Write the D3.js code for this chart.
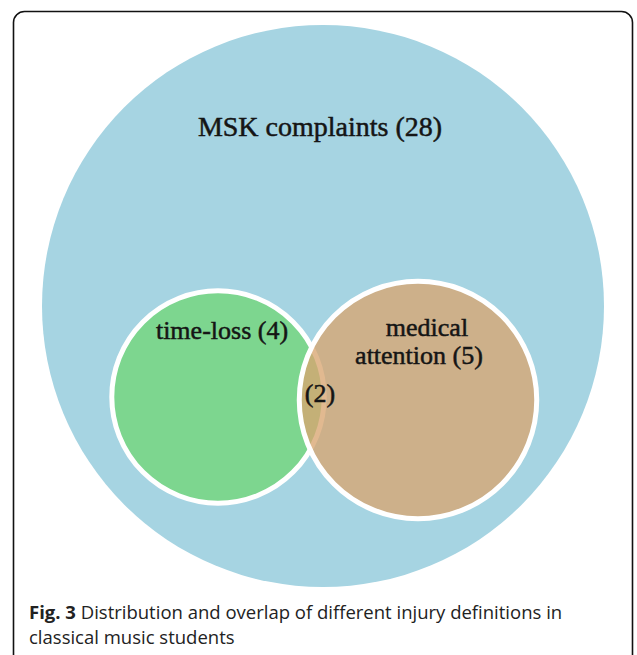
<!DOCTYPE html>
<html>
<head>
<meta charset="utf-8">
<script src="https://cdn.jsdelivr.net/npm/d3@7"></script>
<style>
  html, body { margin: 0; padding: 0; background: #fff; }
  svg { display: block; }
</style>
</head>
<body>
<svg width="637" height="655"></svg>
<script>
(function(){

	var svg = d3.select("svg");

	// sets and their counts
	var setNames = ["MSK complaints", "time-loss", "medical attention"],
		setCounts = [28, 4, 5],
		overlapCount = 2;

	var captionBold = "Fig. 3",
		captionLines = ["Distribution and overlap of different injury definitions in", "classical music students"];

	// circle area follows the count
	var r = d3.scaleSqrt().domain([0, 28]).range([0, 281]);

	// where each circle sits
	var centers = [[323, 306], [218, 397], [418, 400]],
		fills = ["#a6d4e2", "#7dd68f", "#d9a571"],
		opac = [1, 1, 0.78];

	// frame
	svg.append("rect")
		.attr("x", 13.5).attr("y", 11.5)
		.attr("width", 619).attr("height", 670)
		.attr("rx", 11).attr("ry", 11)
		.attr("fill", "#fff")
		.attr("stroke", "#111")
		.attr("stroke-width", 1.6);

	var sets = setNames.map(function(n, i){ return {name: n, value: setCounts[i], i: i}; });

	svg.selectAll("circle.set")
		.data(sets)
		.enter()
		.append("circle")
		.classed("set", true)
		.attr("cx", function(d){ return centers[d.i][0]; })
		.attr("cy", function(d){ return centers[d.i][1]; })
		.attr("r", function(d){ return r(d.value); })
		.attr("fill", function(d){ return fills[d.i]; })
		.attr("fill-opacity", function(d){ return opac[d.i]; })
		.attr("stroke", function(d){ return d.i == 0 ? "none" : "#fff"; })
		.attr("stroke-width", 5);

	var serif = "'Liberation Serif', 'Times New Roman', serif";

	function label(x, y, size, txt) {
		svg.append("text")
			.attr("x", x).attr("y", y)
			.attr("text-anchor", "middle")
			.attr("font-family", serif).attr("font-size", size)
			.attr("fill", "#151515")
			.attr("stroke", "#151515").attr("stroke-width", 0.5)
			.text(txt);
	}

	label(320, 136, 28, setNames[0] + " (" + setCounts[0] + ")");
	label(222, 339, 26, setNames[1] + " (" + setCounts[1] + ")");
	var med = setNames[2].split(" ");
	label(427, 336, 26, med[0]);
	label(419, 364, 26, med[1] + " (" + setCounts[2] + ")");
	label(320, 402, 26, "(" + overlapCount + ")");

	// caption
	var cap = svg.append("text")
		.attr("font-family", "'Open Sans', 'Noto Sans', sans-serif")
		.attr("font-size", 18.5)
		.attr("fill", "#222");
	var l1 = cap.append("tspan").attr("x", 29).attr("y", 619);
	l1.append("tspan").attr("font-weight", "bold").text(captionBold + " ");
	l1.append("tspan").text(captionLines[0]);
	cap.append("tspan").attr("x", 29).attr("y", 644).text(captionLines[1]);

})();
</script>
</body>
</html>
